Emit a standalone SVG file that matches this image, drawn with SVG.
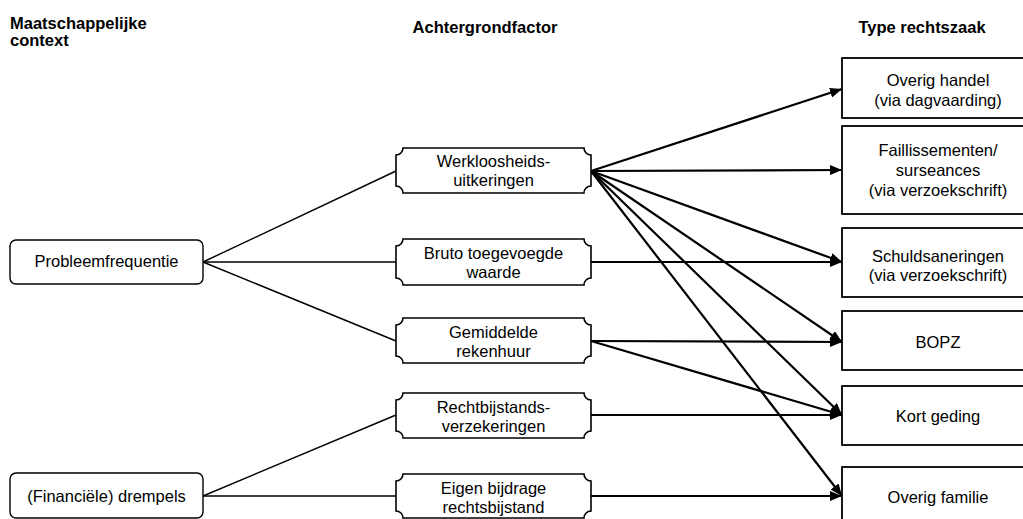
<svg xmlns="http://www.w3.org/2000/svg" width="1023" height="519" viewBox="0 0 1023 519">
<style>
text{font-family:"Liberation Sans",Arial,sans-serif;font-size:16.5px;fill:#000;text-anchor:middle}
.hd{font-weight:bold}
.lb{fill:#fff;stroke:#000;stroke-width:1.4}
.pl{fill:#fff;stroke:#000;stroke-width:1.6}
.rb{fill:#fff;stroke:#000;stroke-width:1.8}
.ln{stroke:#000;stroke-width:1.4;fill:none}
.ar{stroke:#000;stroke-width:2.2;fill:none;marker-end:url(#ah)}
</style>
<defs>
<marker id="ah" viewBox="0 0 12 10" refX="12" refY="5" markerWidth="12" markerHeight="10" markerUnits="userSpaceOnUse" orient="auto">
<path d="M0,0 L12,5 L0,10 Z" fill="#000"/>
</marker>
</defs>
<rect width="1023" height="519" fill="#fff"/>
<g id="headers">
<text class="hd" x="10" y="29" style="text-anchor:start">Maatschappelijke</text>
<text class="hd" x="10" y="46" style="text-anchor:start">context</text>
<text class="hd" x="485" y="33">Achtergrondfactor</text>
<text class="hd" x="922" y="33">Type rechtszaak</text>
</g>
<g id="connectors">
<line class="ln" x1="203" y1="262" x2="396" y2="171"/>
<line class="ln" x1="203" y1="262" x2="396" y2="262"/>
<line class="ln" x1="203" y1="262" x2="396" y2="341"/>
<line class="ln" x1="203" y1="496" x2="396" y2="415"/>
<line class="ln" x1="203" y1="496" x2="396" y2="496"/>
<line class="ar" x1="591" y1="171" x2="842" y2="89"/>
<line class="ar" x1="591" y1="171" x2="842" y2="170"/>
<line class="ar" x1="591" y1="171" x2="842" y2="262"/>
<line class="ar" x1="591" y1="171" x2="842" y2="342"/>
<line class="ar" x1="591" y1="171" x2="842" y2="415"/>
<line class="ar" x1="591" y1="171" x2="842" y2="496"/>
<line class="ar" x1="591" y1="262" x2="842" y2="262"/>
<line class="ar" x1="591" y1="341" x2="842" y2="342"/>
<line class="ar" x1="591" y1="341" x2="842" y2="415"/>
<line class="ar" x1="591" y1="415" x2="842" y2="415"/>
<line class="ar" x1="591" y1="496" x2="842" y2="496"/>
</g>
<g id="probleemfrequentie">
<rect class="lb" x="10" y="240" width="193" height="44" rx="6"/>
<text x="106.5" y="267">Probleemfrequentie</text>
</g>
<g id="drempels">
<rect class="lb" x="10" y="473" width="193" height="45" rx="6"/>
<text x="106.5" y="502">(Financiële) drempels</text>
</g>
<g id="werkloosheid">
<path class="pl" d="M403,148 H584 A7 7 0 0 0 591,155 V186 A7 7 0 0 0 584,193 H403 A7 7 0 0 0 396,186 V155 A7 7 0 0 0 403,148 Z"/>
<text x="493.5" y="167">Werkloosheids-</text>
<text x="493.5" y="186">uitkeringen</text>
</g>
<g id="bruto">
<path class="pl" d="M403,239 H584 A7 7 0 0 0 591,246 V278 A7 7 0 0 0 584,285 H403 A7 7 0 0 0 396,278 V246 A7 7 0 0 0 403,239 Z"/>
<text x="493.5" y="259">Bruto toegevoegde</text>
<text x="493.5" y="278">waarde</text>
</g>
<g id="gemiddelde">
<path class="pl" d="M403,318 H584 A7 7 0 0 0 591,325 V356 A7 7 0 0 0 584,363 H403 A7 7 0 0 0 396,356 V325 A7 7 0 0 0 403,318 Z"/>
<text x="493.5" y="337.5">Gemiddelde</text>
<text x="493.5" y="356.5">rekenhuur</text>
</g>
<g id="rechtsbijstand">
<path class="pl" d="M403,393 H584 A7 7 0 0 0 591,400 V431 A7 7 0 0 0 584,438 H403 A7 7 0 0 0 396,431 V400 A7 7 0 0 0 403,393 Z"/>
<text x="493.5" y="412.5">Rechtbijstands-</text>
<text x="493.5" y="431.5">verzekeringen</text>
</g>
<g id="eigenbijdrage">
<path class="pl" d="M403,474 H584 A7 7 0 0 0 591,481 V511 A7 7 0 0 0 584,518 H403 A7 7 0 0 0 396,511 V481 A7 7 0 0 0 403,474 Z"/>
<text x="493.5" y="493.5">Eigen bijdrage</text>
<text x="493.5" y="512.5">rechtsbijstand</text>
</g>
<g id="overighandel">
<rect class="rb" x="842" y="58" width="195" height="60"/>
<text x="938" y="86">Overig handel</text>
<text x="938" y="106">(via dagvaarding)</text>
</g>
<g id="faillissementen">
<rect class="rb" x="842" y="126" width="195" height="88"/>
<text x="938" y="156">Faillissementen/</text>
<text x="938" y="176">surseances</text>
<text x="938" y="196">(via verzoekschrift)</text>
</g>
<g id="schuldsaneringen">
<rect class="rb" x="842" y="228" width="195" height="69"/>
<text x="938" y="262">Schuldsaneringen</text>
<text x="938" y="281">(via verzoekschrift)</text>
</g>
<g id="bopz">
<rect class="rb" x="842" y="311" width="195" height="59"/>
<text x="938" y="348">BOPZ</text>
</g>
<g id="kortgeding">
<rect class="rb" x="842" y="386" width="195" height="59"/>
<text x="938" y="422">Kort geding</text>
</g>
<g id="overigfamilie">
<rect class="rb" x="842" y="467" width="195" height="60"/>
<text x="938" y="503">Overig familie</text>
</g>
</svg>
